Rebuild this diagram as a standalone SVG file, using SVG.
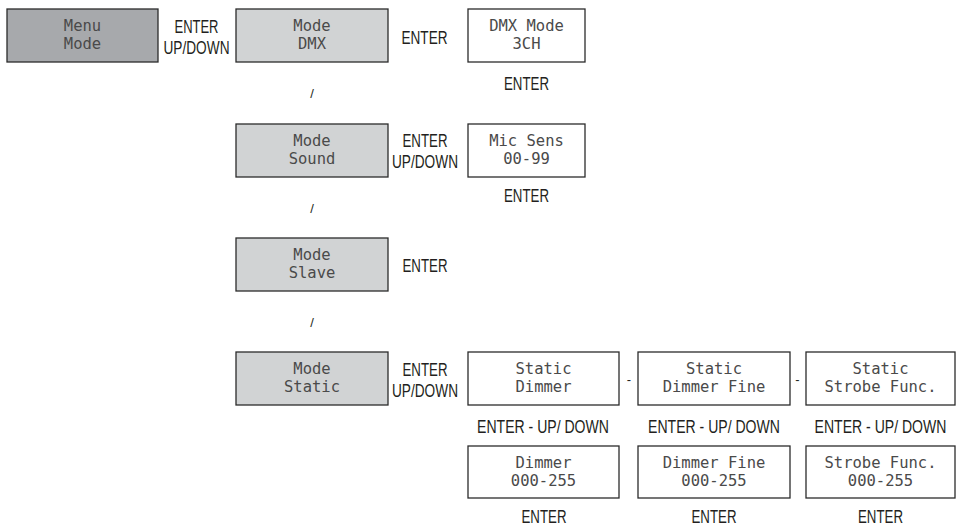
<svg xmlns="http://www.w3.org/2000/svg" width="956" height="526" viewBox="0 0 956 526">
<style>
.box{stroke:#2b2b2b;stroke-width:1.3}
.dark{fill:#a7a9ac}
.light{fill:#d1d3d4}
.white{fill:#ffffff}
.bt{font-family:"DejaVu Sans Mono","Liberation Mono",monospace;font-size:15.5px;fill:#4a4a4a;text-anchor:middle}
.lb{font-family:"Liberation Sans",Arial,sans-serif;font-size:18.5px;fill:#231f20;text-anchor:middle}
.sm{font-family:"Liberation Sans",Arial,sans-serif;font-size:13px;fill:#231f20;text-anchor:middle}
</style>
<rect width="956" height="526" fill="#ffffff"/>
<g id="menu-mode"><rect class="box dark" x="7" y="9" width="151" height="53"/><text class="bt" x="82.5" y="31">Menu</text><text class="bt" x="82.5" y="49">Mode</text></g>
<g id="mode-dmx"><rect class="box light" x="236" y="9" width="152" height="53"/><text class="bt" x="312" y="31">Mode</text><text class="bt" x="312" y="49">DMX</text></g>
<g id="dmx-mode-3ch"><rect class="box white" x="468" y="9" width="117" height="53"/><text class="bt" x="526.5" y="31">DMX Mode</text><text class="bt" x="526.5" y="49">3CH</text></g>
<g id="mode-sound"><rect class="box light" x="236" y="124" width="152" height="53"/><text class="bt" x="312" y="146">Mode</text><text class="bt" x="312" y="164">Sound</text></g>
<g id="mic-sens"><rect class="box white" x="468" y="124" width="117" height="53"/><text class="bt" x="526.5" y="146">Mic Sens</text><text class="bt" x="526.5" y="164">00-99</text></g>
<g id="mode-slave"><rect class="box light" x="236" y="238" width="152" height="53"/><text class="bt" x="312" y="260">Mode</text><text class="bt" x="312" y="278">Slave</text></g>
<g id="mode-static"><rect class="box light" x="236" y="352" width="152" height="53"/><text class="bt" x="312" y="374">Mode</text><text class="bt" x="312" y="392">Static</text></g>
<g id="static-dimmer"><rect class="box white" x="468" y="352" width="151" height="53"/><text class="bt" x="543.5" y="374">Static</text><text class="bt" x="543.5" y="392">Dimmer</text></g>
<g id="static-dimmer-fine"><rect class="box white" x="638" y="352" width="152" height="53"/><text class="bt" x="714" y="374">Static</text><text class="bt" x="714" y="392">Dimmer Fine</text></g>
<g id="static-strobe"><rect class="box white" x="806" y="352" width="149" height="53"/><text class="bt" x="880.5" y="374">Static</text><text class="bt" x="880.5" y="392">Strobe Func.</text></g>
<g id="dimmer-value"><rect class="box white" x="468" y="446" width="151" height="52"/><text class="bt" x="543.5" y="468">Dimmer</text><text class="bt" x="543.5" y="486">000-255</text></g>
<g id="dimmer-fine-value"><rect class="box white" x="638" y="446" width="152" height="52"/><text class="bt" x="714" y="468">Dimmer Fine</text><text class="bt" x="714" y="486">000-255</text></g>
<g id="strobe-value"><rect class="box white" x="806" y="446" width="149" height="52"/><text class="bt" x="880.5" y="468">Strobe Func.</text><text class="bt" x="880.5" y="486">000-255</text></g>
<g id="connectors">
<text class="lb" x="196.5" y="33" textLength="44" lengthAdjust="spacingAndGlyphs">ENTER</text><text class="lb" x="196.5" y="53.5" textLength="66" lengthAdjust="spacingAndGlyphs">UP/DOWN</text>
<text class="lb" x="424.5" y="43.5" textLength="46" lengthAdjust="spacingAndGlyphs">ENTER</text>
<text class="lb" x="526.5" y="90" textLength="45" lengthAdjust="spacingAndGlyphs">ENTER</text>
<text class="sm" x="312" y="98">/</text>
<text class="lb" x="425" y="147" textLength="45" lengthAdjust="spacingAndGlyphs">ENTER</text><text class="lb" x="425" y="168" textLength="66" lengthAdjust="spacingAndGlyphs">UP/DOWN</text>
<text class="lb" x="526.5" y="202" textLength="45" lengthAdjust="spacingAndGlyphs">ENTER</text>
<text class="sm" x="312" y="213">/</text>
<text class="lb" x="425" y="272" textLength="45" lengthAdjust="spacingAndGlyphs">ENTER</text>
<text class="sm" x="312" y="327">/</text>
<text class="lb" x="425" y="376" textLength="45" lengthAdjust="spacingAndGlyphs">ENTER</text><text class="lb" x="425" y="397" textLength="66" lengthAdjust="spacingAndGlyphs">UP/DOWN</text>
<text class="sm" x="629" y="384">-</text>
<text class="sm" x="797.5" y="384">-</text>
<text class="lb" transform="translate(543 432.5) scale(0.76 1)">ENTER - UP/ DOWN</text>
<text class="lb" transform="translate(714 432.5) scale(0.76 1)">ENTER - UP/ DOWN</text>
<text class="lb" transform="translate(880.5 432.5) scale(0.76 1)">ENTER - UP/ DOWN</text>
<text class="lb" x="544" y="523" textLength="45" lengthAdjust="spacingAndGlyphs">ENTER</text>
<text class="lb" x="714" y="523" textLength="45" lengthAdjust="spacingAndGlyphs">ENTER</text>
<text class="lb" x="880.5" y="523" textLength="45" lengthAdjust="spacingAndGlyphs">ENTER</text>
</g>
</svg>
